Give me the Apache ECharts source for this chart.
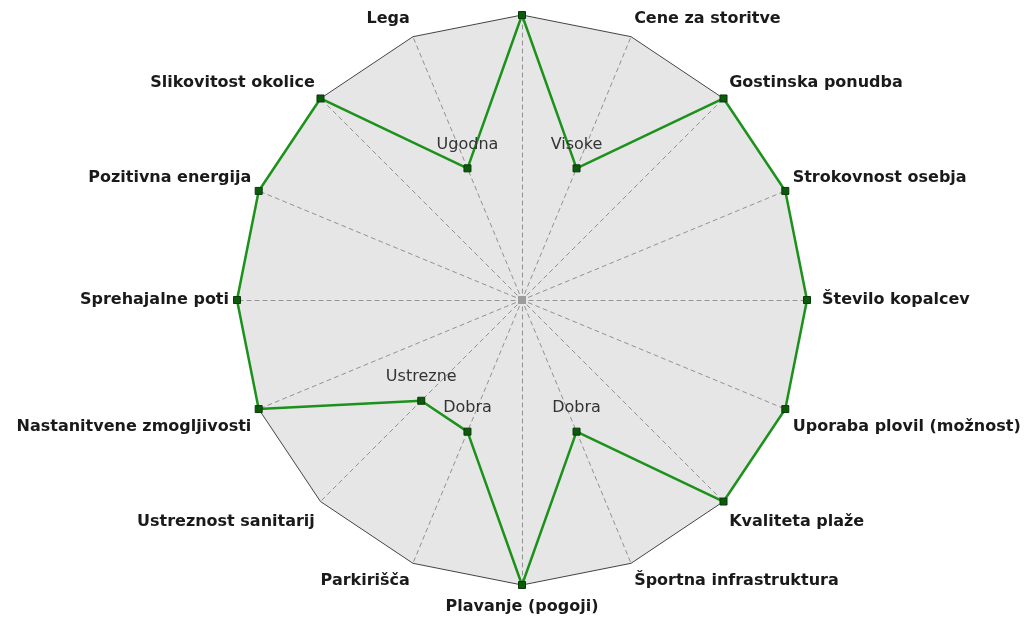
<!DOCTYPE html>
<html>
<head>
<meta charset="utf-8">
<script src="https://cdn.jsdelivr.net/npm/echarts@6/dist/echarts.min.js"></script>
<style>
html,body{margin:0;padding:0;background:#fff;}
#chart{width:1026px;height:619px;}
</style>
</head>
<body>
<div id="chart"></div>
<script>
// Indicators listed counter-clockwise starting from the top
const indicatorNames = ['', 'Lega', 'Slikovitost okolice', 'Pozitivna energija', 'Sprehajalne poti',
  'Nastanitvene zmogljivosti', 'Ustreznost sanitarij', 'Parkirišča', 'Plavanje (pogoji)',
  'Športna infrastruktura', 'Kvaliteta plaže', 'Uporaba plovil (možnost)', 'Število kopalcev',
  'Strokovnost osebja', 'Gostinska ponudba', 'Cene za storitve'];
const values = [1, 0.5, 1, 1, 1, 1, 0.5, 0.5, 1, 0.5, 1, 1, 1, 1, 1, 0.5];
const pointLabels = ['', 'Ugodna', '', '', '', '', 'Ustrezne', 'Dobra', '', 'Dobra', '', '', '', '', '', 'Visoke'];
const centerValues = indicatorNames.map(() => 0);

const n = indicatorNames.length;
function nameStyleKey(i) {
  const a = (90 + i * 360 / n) * Math.PI / 180;
  const s = Math.sin(a), c = Math.cos(a);
  if (Math.abs(s) < 0.01) return c > 0 ? 'east' : 'west';
  if (s < -0.99) return 'south';
  if (s > 0) return 'up';
  return s < -0.9 ? 'down2' : 'down';
}
const baseFont = { fontFamily: 'DejaVu Sans', fontWeight: 'bold', fontSize: 16, color: '#1a1a1a' };

const chart = echarts.init(document.getElementById('chart'));
chart.setOption({
  animation: false,
  backgroundColor: '#ffffff',
  radar: {
    center: [522, 300],
    radius: 285,
    startAngle: 90,
    shape: 'polygon',
    splitNumber: 1,
    nameGap: 8,
    indicator: indicatorNames.map(nm => ({ name: nm, min: 0, max: 1 })),
    axisName: Object.assign({}, baseFont, {
      formatter: function (name) {
        const i = indicatorNames.indexOf(name);
        if (!name) return '';
        return '{' + nameStyleKey(i) + '|' + name + '}';
      },
      rich: {
        up: Object.assign({}, baseFont, { padding: [0, 0, 20, 0] }),
        down: Object.assign({}, baseFont, { padding: [30, 0, 0, 0] }),
        down2: Object.assign({}, baseFont, { padding: [20, 0, 0, 0] }),
        south: Object.assign({}, baseFont, { padding: [6, 0, 0, 0] }),
        east: Object.assign({}, baseFont, { padding: [0, 0, 0, 7] }),
        west: Object.assign({}, baseFont, { padding: [0, 0, 0, 0] })
      }
    }),
    splitArea: { show: true, areaStyle: { color: ['#e6e6e6'] } },
    splitLine: { lineStyle: { color: '#444444', width: 1 } },
    axisLine: { lineStyle: { color: '#929292', width: 1, type: [4, 4], dashOffset: 1 } },
    axisTick: { show: false },
    axisLabel: { show: false }
  },
  series: [
    {
      type: 'radar',
      silent: true,
      symbol: 'rect',
      symbolSize: 7,
      itemStyle: { color: '#9c9c9c' },
      lineStyle: { width: 0, opacity: 0 },
      data: [{ value: centerValues }]
    },
    {
      type: 'radar',
      symbol: 'rect',
      symbolSize: 7,
      itemStyle: { color: '#0c5a0c', borderColor: '#083a08', borderWidth: 1 },
      lineStyle: { color: '#1c921c', width: 2.5 },
      label: {
        show: true,
        position: 'top',
        distance: 12,
        color: '#333333',
        fontFamily: 'DejaVu Sans',
        fontSize: 16,
        formatter: p => pointLabels[p.dimensionIndex] || ''
      },
      data: [{ value: values }]
    }
  ]
});
</script>
</body>
</html>
